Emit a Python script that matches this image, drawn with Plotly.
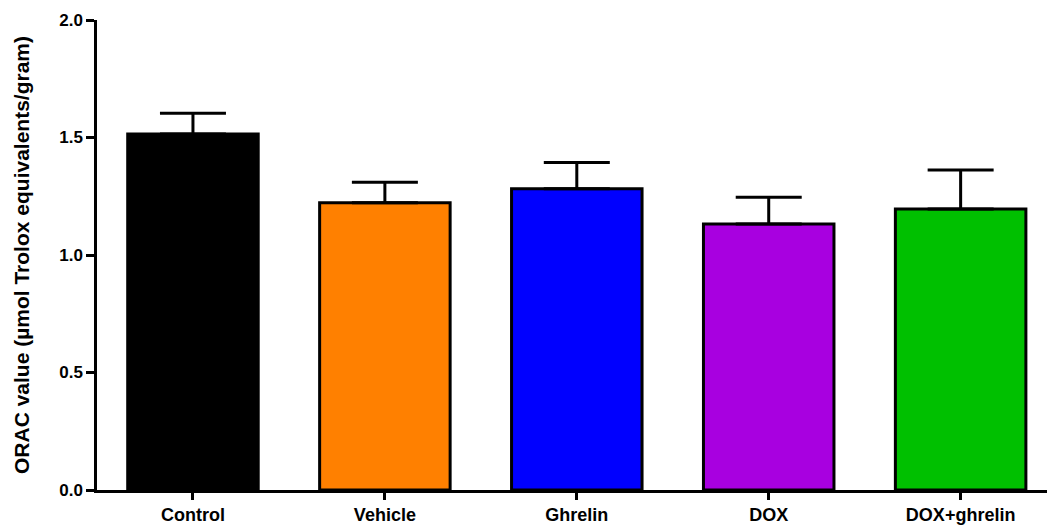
import plotly.graph_objects as go

groups = ["Control", "Vehicle", "Ghrelin", "DOX", "DOX+ghrelin"]
orac_mean = [1.515, 1.222, 1.282, 1.132, 1.196]
orac_sem = [0.088, 0.088, 0.112, 0.114, 0.166]
bar_colors = ["#000000", "#FF8000", "#0000FF", "#A800E0", "#00C000"]
y_ticks = [0.0, 0.5, 1.0, 1.5, 2.0]
y_tick_labels = ["0.0", "0.5", "1.0", "1.5", "2.0"]

font_family = "Liberation Sans, Arial, Helvetica, sans-serif"

fig = go.Figure(
    go.Bar(
        x=groups,
        y=orac_mean,
        width=0.68,
        marker=dict(color=bar_colors, line=dict(color="black", width=3)),
        error_y=dict(
            type="data",
            array=orac_sem,
            arrayminus=[0] * len(orac_sem),
            symmetric=False,
            color="black",
            thickness=3,
            width=33,
        ),
    )
)

fig.update_layout(
    width=1047,
    height=525,
    margin=dict(l=97, r=0, t=20, b=33),
    plot_bgcolor="white",
    paper_bgcolor="white",
    showlegend=False,
    font=dict(family=font_family, color="black"),
)

fig.update_xaxes(
    range=[-0.5, 4.45],
    showline=True,
    linecolor="black",
    linewidth=2.5,
    ticks="outside",
    ticklen=7,
    tickwidth=2.5,
    tickcolor="black",
    showgrid=False,
    tickfont=dict(size=18, weight="bold", family=font_family),
)

fig.update_yaxes(
    range=[0, 2.0],
    tickvals=y_ticks,
    ticktext=y_tick_labels,
    showline=True,
    linecolor="black",
    linewidth=2.5,
    ticks="outside",
    ticklen=8,
    tickwidth=2.5,
    tickcolor="black",
    showgrid=False,
    zeroline=False,
    tickfont=dict(size=17, weight="bold", family=font_family),
    title=dict(
        text="ORAC value (µmol Trolox equivalents/gram)",
        font=dict(size=21, weight="bold", family=font_family),
        standoff=24,
    ),
)

fig.write_html("out.html")
